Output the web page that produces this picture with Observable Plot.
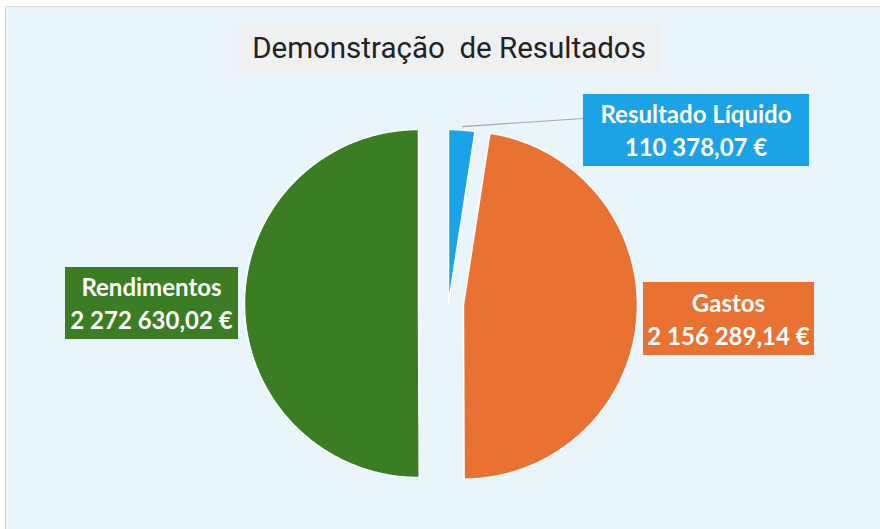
<!DOCTYPE html>
<html><head><meta charset="utf-8">
<script src="https://cdn.jsdelivr.net/npm/d3@7"></script>
<script src="https://cdn.jsdelivr.net/npm/@observablehq/plot@0.6"></script>
<style>
html,body{margin:0;padding:0;background:#fff;}
#wrap{position:relative;width:880px;height:529px;overflow:hidden;background:#fff;}
#panel{position:absolute;left:5px;top:6px;right:0;bottom:0;background:#eaf4fb;border-left:1px solid #d4d7da;border-top:1px solid #d4d7da;}
#chart{position:absolute;left:0;top:0;}
#title{position:absolute;left:238px;top:23px;width:422px;height:50px;background:#eff0f1;font-family:Roboto,sans-serif;font-size:29.5px;color:#222;text-align:center;line-height:50px;white-space:pre;}
.lbl{position:absolute;color:#fff;font-family:Lato,sans-serif;font-weight:700;font-size:24px;text-align:center;display:flex;flex-direction:column;justify-content:center;line-height:33px;white-space:nowrap;}
</style></head><body>
<div id="wrap"><div id="panel"></div><div id="chart"></div><div id="title"></div></div>
<script>
// ---- data ----
const titleText = "Demonstração  de Resultados";
const categories = ["Resultado Líquido", "Gastos", "Rendimentos"];
const values = [110378.07, 2156289.14, 2272630.02];
const colors = ["#1aa3e6", "#e97132", "#3b7d23"];

// ---- layout (pixels) ----
const W = 880, H = 529, R = 174, CX = 440.5, CY = 303;
const explodePx = {"Resultado Líquido": [7.5, 0], "Gastos": "radial", "Rendimentos": "radial"};
const explodeDist = 22.5;
const labelBoxes = {
  "Resultado Líquido": {left: 583, top: 94, width: 226, height: 72},
  "Gastos": {left: 643, top: 282, width: 171, height: 73},
  "Rendimentos": {left: 65, top: 267, width: 173, height: 72}
};
const leaderEndPx = [583, 118];

const fmt = d3.formatLocale({decimal: ",", thousands: "\u00a0", grouping: [3], currency: ["", "\u00a0€"]}).format("$,.2f");

const arcs = d3.pie().sort(null).value(d => d.value).startAngle(0).endAngle(2 * Math.PI)(
  categories.map((name, i) => ({name, value: values[i]}))
);

// offsets in data units (radius = 1)
function offsetOf(a) {
  const e = explodePx[a.data.name];
  if (e === "radial") {
    const m = (a.startAngle + a.endAngle) / 2;
    return [Math.sin(m) * explodeDist / R, Math.cos(m) * explodeDist / R];
  }
  return [e[0] / R, -e[1] / R];
}

const pts = [];
for (const a of arcs) {
  const [ox, oy] = offsetOf(a);
  pts.push({name: a.data.name, x: ox, y: oy});
  const n = Math.max(2, Math.ceil((a.endAngle - a.startAngle) / 0.01));
  for (let k = 0; k <= n; k++) {
    const t = a.startAngle + (a.endAngle - a.startAngle) * k / n;
    pts.push({name: a.data.name, x: ox + Math.sin(t), y: oy + Math.cos(t)});
  }
}

const xDomain = [-CX / R, (W - CX) / R];
const yDomain = [(CY - H) / R, CY / R];
const toDataX = px => xDomain[0] + px / W * (xDomain[1] - xDomain[0]);
const toDataY = py => yDomain[1] - py / H * (yDomain[1] - yDomain[0]);

const rl = arcs[0];
const [rox, roy] = offsetOf(rl);
const rm = (rl.startAngle + rl.endAngle) / 2;
const leader = [{
  x1: rox + Math.sin(rm) * 1.02, y1: roy + Math.cos(rm) * 1.02,
  x2: toDataX(leaderEndPx[0]), y2: toDataY(leaderEndPx[1])
}];

const chart = Plot.plot({
  width: W, height: H, margin: 0,
  x: {domain: xDomain, axis: null},
  y: {domain: yDomain, axis: null},
  color: {domain: categories, range: colors},
  style: {background: "transparent"},
  marks: [
    Plot.line(pts, {x: "x", y: "y", z: "name", fill: "name", stroke: "white", strokeWidth: 1.5, curve: "linear-closed"}),
    Plot.link(leader, {x1: "x1", y1: "y1", x2: "x2", y2: "y2", stroke: "#a6a8aa", strokeWidth: 1.2})
  ]
});
document.getElementById("chart").appendChild(chart);
document.getElementById("title").textContent = titleText;

const wrap = document.getElementById("wrap");
categories.forEach((name, i) => {
  const b = labelBoxes[name];
  const d = document.createElement("div");
  d.className = "lbl";
  Object.assign(d.style, {left: b.left + "px", top: b.top + "px", width: b.width + "px", height: b.height + "px", background: colors[i]});
  const l1 = document.createElement("div"); l1.textContent = name;
  const l2 = document.createElement("div"); l2.textContent = fmt(values[i]);
  d.appendChild(l1); d.appendChild(l2);
  wrap.appendChild(d);
});
</script>
</body></html>
